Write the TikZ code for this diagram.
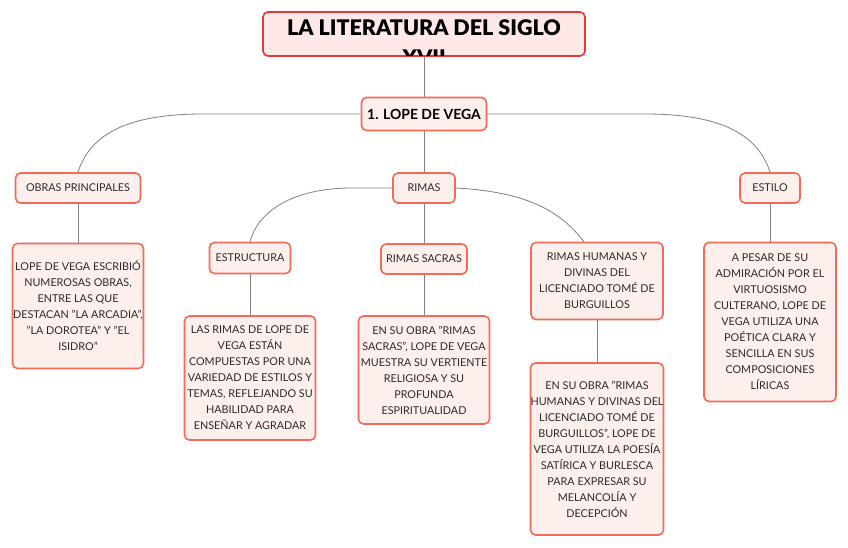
\documentclass[tikz,border=0pt]{standalone}
\usepackage{fontspec}
\setmainfont{Lato}
\newfontfamily\titlefont{Lato Black}
\usetikzlibrary{arrows.meta}

\definecolor{titlered}{HTML}{E53A3A}
\definecolor{titlefill}{HTML}{FFE9E8}
\definecolor{boxred}{HTML}{F46A58}
\definecolor{boxfill}{HTML}{FDF0EC}
\definecolor{linkgray}{HTML}{857F7F}
\definecolor{inkgray}{HTML}{2B2B2B}

\newcommand{\bodyfont}{\fontsize{10.8}{16}\selectfont}

\begin{document}
\begin{tikzpicture}[x=1pt, y=-1pt, text=inkgray,
    box/.style={draw=boxred, fill=boxfill, line width=1.6pt, rounded corners=5pt,
        inner sep=0pt, align=center, font=\bodyfont},
    link/.style={draw=linkgray, line width=0.8pt}]
    \useasboundingbox[fill=white] (0,0) rectangle (848,548);

    % Titulo
    \node[draw=titlered, fill=titlefill, line width=1.6pt, rounded corners=5pt,
        minimum width=322pt, minimum height=44pt] (title) at (424,34) {};
    \begin{scope}
        \clip (263,12) rectangle (585,56);
        \node[anchor=north, align=center, inner sep=0pt, font=\fontsize{21.5}{30}\titlefont, text=black]
            (titletext) at (424,19) {LA LITERATURA DEL SIGLO\\XVII};
    \end{scope}

    % Nodo central
    \node[box, minimum width=125pt, minimum height=33pt,
        font=\fontsize{14}{16}\selectfont\bfseries, text=black] (lope) at (424,114) {1. LOPE DE VEGA};

    % Ramas
    \node[box, minimum width=125pt, minimum height=30pt] (obras) at (78,188) {OBRAS PRINCIPALES};
    \node[box, minimum width=62pt, minimum height=30pt] (rimas) at (424,188) {RIMAS};
    \node[box, minimum width=60pt, minimum height=30pt] (estilo) at (770,188) {ESTILO};

    % Tipos de rimas
    \node[box, minimum width=81pt, minimum height=31pt] (estructura) at (250,258) {ESTRUCTURA};
    \node[box, minimum width=86pt, minimum height=30pt] (sacras) at (424,259) {RIMAS SACRAS};
    \node[box, minimum width=132pt, minimum height=77pt] (humanas) at (597,281)
        {RIMAS HUMANAS Y\\DIVINAS DEL\\LICENCIADO TOMÉ DE\\BURGUILLOS};

    % Textos
    \node[box, minimum width=131pt, minimum height=125pt] (obrastxt) at (78,306)
        {LOPE DE VEGA ESCRIBIÓ\\NUMEROSAS OBRAS,\\ENTRE LAS QUE\\DESTACAN "LA ARCADIA",\\"LA DOROTEA" Y "EL\\ISIDRO"};
    \node[box, minimum width=131pt, minimum height=124pt] (estructuratxt) at (250,378)
        {LAS RIMAS DE LOPE DE\\VEGA ESTÁN\\COMPUESTAS POR UNA\\VARIEDAD DE ESTILOS Y\\TEMAS, REFLEJANDO SU\\HABILIDAD PARA\\ENSEÑAR Y AGRADAR};
    \node[box, minimum width=131pt, minimum height=108pt] (sacrastxt) at (424,370)
        {EN SU OBRA "RIMAS\\SACRAS", LOPE DE VEGA\\MUESTRA SU VERTIENTE\\RELIGIOSA Y SU\\PROFUNDA\\ESPIRITUALIDAD};
    \node[box, minimum width=132pt, minimum height=172pt] (humanastxt) at (597,449)
        {EN SU OBRA "RIMAS\\HUMANAS Y DIVINAS DEL\\LICENCIADO TOMÉ DE\\BURGUILLOS", LOPE DE\\VEGA UTILIZA LA POESÍA\\SATÍRICA Y BURLESCA\\PARA EXPRESAR SU\\MELANCOLÍA Y\\DECEPCIÓN};
    \node[box, minimum width=132pt, minimum height=159pt] (estilotxt) at (770,322)
        {A PESAR DE SU\\ADMIRACIÓN POR EL\\VIRTUOSISMO\\CULTERANO, LOPE DE\\VEGA UTILIZA UNA\\POÉTICA CLARA Y\\SENCILLA EN SUS\\COMPOSICIONES\\LÍRICAS};

    % Conexiones
    \draw[link] (title) -- (lope);
    \draw[link] (lope.west) -- +(-158,0) .. controls +(-75,0) and +(12,-38) .. (obras.north);
    \draw[link] (lope.east) -- +(158,0) .. controls +(75,0) and +(-12,-38) .. (estilo.north);
    \draw[link] (lope) -- (rimas);
    \draw[link] (rimas.west) -- +(-40,0) .. controls +(-60,0) and +(8,-30) .. (estructura.north);
    \draw[link] (rimas) -- (sacras);
    \draw[link] (rimas.east) .. controls +(70,4) and +(-25,-32) .. ([xshift=-13pt]humanas.north);
    \draw[link] (obras) -- (obrastxt);
    \draw[link] (estructura) -- (estructuratxt);
    \draw[link] (sacras) -- (sacrastxt);
    \draw[link] (humanas) -- (humanastxt);
    \draw[link] (estilo) -- (estilotxt);
\end{tikzpicture}
\end{document}
